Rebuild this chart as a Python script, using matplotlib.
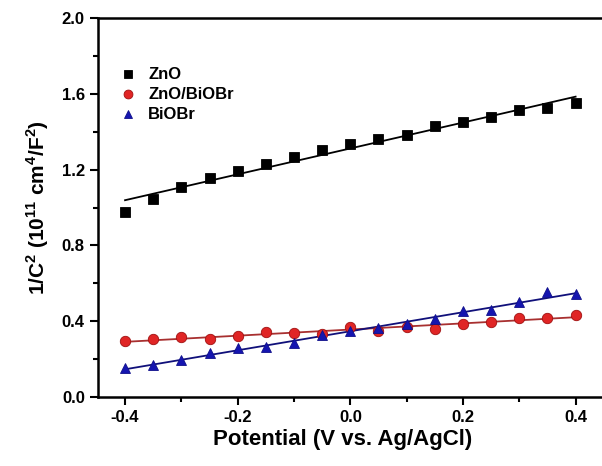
import numpy as np
import matplotlib.pyplot as plt
from matplotlib.ticker import MultipleLocator, FormatStrFormatter

plt.rcParams['font.family'] = ['Liberation Sans', 'DejaVu Sans']
plt.rcParams['font.weight'] = 'bold'
plt.rcParams['axes.unicode_minus'] = False
plt.rcParams['mathtext.fontset'] = 'custom'
plt.rcParams['mathtext.rm'] = 'Liberation Sans:bold'
plt.rcParams['mathtext.bf'] = 'Liberation Sans:bold'

potential = [-0.40, -0.35, -0.30, -0.25, -0.20, -0.15, -0.10, -0.05, 0.00,
             0.05, 0.10, 0.15, 0.20, 0.25, 0.30, 0.35, 0.40]
zno = [0.978, 1.045, 1.110, 1.154, 1.193, 1.228, 1.268, 1.303, 1.335,
       1.360, 1.383, 1.430, 1.451, 1.479, 1.515, 1.525, 1.553]
zno_biobr = [0.294, 0.304, 0.317, 0.308, 0.324, 0.343, 0.338, 0.331, 0.371,
             0.350, 0.371, 0.359, 0.387, 0.397, 0.415, 0.415, 0.434]
biobr = [0.155, 0.169, 0.195, 0.234, 0.257, 0.262, 0.285, 0.326, 0.350,
         0.362, 0.383, 0.412, 0.455, 0.459, 0.501, 0.554, 0.544]

fig = plt.figure(figsize=(6.02, 4.66), dpi=100)
ax = fig.add_axes([0.1628, 0.148, 0.842, 0.813])

x = np.array(potential)
series = [
    (zno, 'ZnO', 's', 'black', 'black', 'black', 6.5),
    (zno_biobr, 'ZnO/BiOBr', 'o', '#e02525', '#a01010', '#a83030', 7.5),
    (biobr, 'BiOBr', '^', '#1515b0', '#10108a', '#10107a', 7.5),
]
for y, name, m, fc, ec, lc, ms in series:
    # linear fit through the points
    k, b = np.polyfit(x, y, 1)
    ax.plot(x, k * x + b, color=lc, lw=1.3, zorder=2)
    ax.plot(x, y, m, ms=ms, mfc=fc, mec=ec, mew=0.6, ls='none',
            label=name, zorder=3)

ax.set_xlim(-0.448, 0.452)
ax.set_ylim(0, 2.0)
ax.xaxis.set_major_locator(MultipleLocator(0.2))
ax.xaxis.set_minor_locator(MultipleLocator(0.1))
ax.yaxis.set_major_locator(MultipleLocator(0.4))
ax.yaxis.set_minor_locator(MultipleLocator(0.2))
ax.xaxis.set_major_formatter(FormatStrFormatter('%.1f'))
ax.yaxis.set_major_formatter(FormatStrFormatter('%.1f'))
ax.tick_params(which='both', direction='out', width=1.5, labelsize=12,
               top=False, right=False)
ax.tick_params(which='major', length=6)
ax.tick_params(which='minor', length=3.5)
for s in ax.spines.values():
    s.set_linewidth(1.8)
ax.spines['right'].set_visible(False)

ax.set_xlabel('Potential (V vs. Ag/AgCl)', fontsize=16, fontweight='bold')
ax.xaxis.set_label_coords(0.482, -0.085)
ax.set_ylabel(r'1/C$^{2}$ (10$^{11}$ cm$^{4}$/F$^{2}$)', fontsize=15,
              fontweight='bold', labelpad=8)

ax.legend(loc='upper left', frameon=False, fontsize=12, handletextpad=0.6,
          borderaxespad=0.8, labelspacing=0.3, handlelength=1.2,
          markerscale=0.85, bbox_to_anchor=(0.0, 0.923))

fig.savefig('out.png', dpi=100)
